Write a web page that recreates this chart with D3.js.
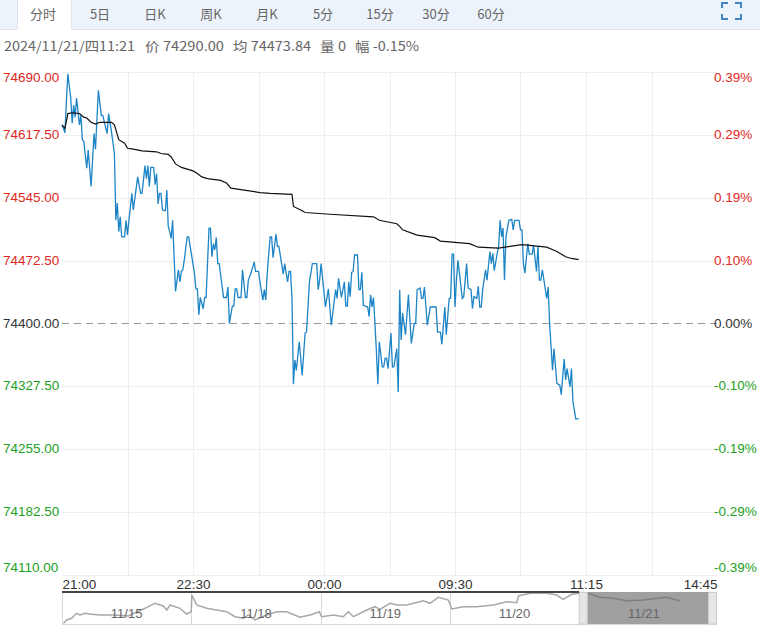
<!DOCTYPE html>
<html>
<head>
<meta charset="utf-8">
<script src="https://cdnjs.cloudflare.com/ajax/libs/d3/7.8.5/d3.min.js"></script>
<style>
  body { margin: 0; background: #fff; }
  svg { display: block; }
  .grid line { stroke: #eceef1; stroke-width: 1; shape-rendering: crispEdges; }
  .axis text { font-family: "Liberation Sans", Arial, sans-serif; font-size: 13.5px; }
  .axis .domain, .axis line { display: none; }
  .tab { font-family: "Noto Sans CJK SC", sans-serif; font-size: 13px; fill: #666; text-anchor: middle; }
  .info { font-family: "Noto Sans CJK SC", sans-serif; font-size: 13px; fill: #666; }
  .navlabel { font-family: "Liberation Sans", Arial, sans-serif; font-size: 13px; fill: #666; text-anchor: middle; }
</style>
</head>
<body>
<div id="chart"></div>
<script>
// tabs and the info row
let tabNames = ["分时", "5日", "日K", "周K", "月K", "5分", "15分", "30分", "60分"];
let tabCenters = [43, 100, 155, 211, 267, 323, 380, 436, 491];
let infoText = ["2024/11/21/四11:21", "价 74290.00", "均 74473.84", "量 0", "幅 -0.15%"];
let infoLeft = [4, 145, 233, 320, 355];
let infoWidth = [131, 79, 78, 26, 64];

// axes
let priceTicks = [74690, 74617.5, 74545, 74472.5, 74400, 74327.5, 74255, 74182.5, 74110];
let pctLabels = ["0.39%", "0.29%", "0.19%", "0.10%", "0.00%", "-0.10%", "-0.19%", "-0.29%", "-0.39%"];
let timeTicks = [0, 90, 180, 270, 360, 450];
let timeLabels = ["21:00", "22:30", "00:00", "09:30", "11:15", "14:45"];
let gridMinutes = [45, 90, 135, 180, 225, 270, 315, 360, 405];

// [minute since open, price]
let pricePoints = [
  [0,74629],[1,74625],[2,74620],[3,74655],[4,74688],[6,74660],[7,74631],[8,74652],[9,74638],[10,74660],
  [12,74629],[13,74640],[14,74612],[15,74610],[17,74579],[18,74600],[20,74558],[22,74619],[23,74601],[25,74669],
  [27,74640],[28,74640],[31,74619],[32,74642],[34,74621],[36,74596],[37,74519],[38,74539],[39,74506],[40,74523],
  [41,74500],[43,74500],[44,74519],[45,74502],[46,74519],[48,74550],[49,74531],[52,74569],[54,74550],[55,74550],
  [57,74582],[58,74567],[59,74582],[60,74558],[61,74580],[63,74580],[64,74560],[65,74573],[66,74538],[67,74550],
  [68,74550],[69,74531],[71,74530],[72,74554],[73,74512],[74,74506],[75,74498],[76,74519],[78,74437],[80,74462],
  [81,74448],[82,74460],[83,74462],[84,74473],[86,74500],[87,74500],[91,74458],[92,74440],[93,74440],[94,74410],
  [95,74430],[97,74417],[98,74430],[99,74430],[101,74510],[102,74510],[103,74477],[104,74492],[105,74485],[106,74499],
  [107,74469],[108,74469],[111,74430],[113,74430],[114,74442],[115,74400],[117,74420],[118,74420],[119,74440],[120,74440],
  [121,74430],[123,74430],[124,74462],[126,74430],[127,74430],[128,74450],[130,74459],[132,74471],[133,74460],[135,74460],
  [136,74448],[138,74427],[139,74439],[140,74427],[141,74458],[143,74500],[144,74500],[145,74476],[147,74503],[148,74489],
  [149,74489],[152,74457],[153,74469],[155,74448],[156,74460],[157,74460],[158,74429],[159,74330],[160,74358],[161,74346],
  [163,74379],[165,74340],[167,74389],[168,74390],[170,74448],[172,74469],[175,74469],[176,74439],[177,74450],[178,74469],
  [181,74419],[183,74440],[185,74398],[188,74439],[189,74429],[190,74452],[192,74430],[194,74448],[195,74420],[196,74420],
  [197,74448],[198,74431],[199,74459],[200,74460],[201,74479],[203,74479],[204,74439],[205,74439],[206,74459],[207,74421],
  [210,74419],[211,74408],[212,74433],[213,74419],[214,74430],[215,74400],[216,74368],[217,74330],[218,74379],[220,74350],
  [221,74350],[222,74360],[223,74360],[224,74348],[225,74368],[226,74389],[227,74350],[228,74350],[230,74371],[231,74321],
  [232,74439],[233,74381],[234,74412],[236,74387],[238,74433],[240,74377],[242,74400],[243,74400],[244,74439],[246,74441],
  [247,74429],[248,74429],[249,74442],[251,74398],[253,74419],[257,74419],[258,74390],[260,74390],[261,74376],[263,74419],
  [264,74387],[266,74429],[267,74429],[268,74480],[269,74480],[270,74419],[271,74450],[272,74473],[275,74429],[276,74431],
  [278,74469],[279,74441],[281,74439],[282,74417],[283,74431],[285,74429],[286,74443],[287,74419],[288,74419],[289,74439],
  [291,74462],[292,74450],[294,74483],[295,74469],[296,74481],[297,74461],[299,74481],[300,74489],[301,74519],[302,74500],
  [303,74510],[304,74450],[305,74500],[307,74519],[309,74520],[310,74508],[311,74519],[314,74519],[315,74508],[316,74508],
  [317,74469],[318,74458],[320,74492],[321,74480],[323,74480],[324,74490],[326,74460],[327,74489],[328,74450],[329,74450],
  [330,74462],[333,74429],[334,74442],[335,74400],[336,74373],[337,74346],[338,74371],[340,74331],[342,74329],[343,74318],
  [345,74359],[346,74335],[347,74348],[349,74327],[350,74348],[351,74310],[353,74290],[355,74290]
];

// [minute since open, average price]
let avgPoints = [
  [0,74629],[2,74625],[3,74633],[4,74642],[7,74643],[12,74642],[15,74638],[17,74637],[20,74632],[23,74630],
  [26,74632],[34,74632],[36,74629],[39,74612],[43,74608],[45,74602],[49,74601],[55,74599],[65,74598],[68,74596],
  [73,74595],[75,74592],[78,74584],[82,74580],[90,74576],[93,74573],[96,74569],[100,74567],[109,74565],[113,74562],
  [116,74556],[136,74551],[143,74550],[158,74549],[159,74535],[165,74530],[167,74528],[184,74526],[214,74523],[218,74519],
  [230,74515],[232,74512],[234,74508],[244,74502],[256,74499],[260,74495],[280,74492],[286,74488],[300,74487],[316,74491],
  [333,74488],[340,74483],[346,74477],[350,74475],[354,74474],[355,74473.84]
];

// navigator: [minute over the five sessions, level]
let navDays = ["11/15", "11/18", "11/19", "11/20", "11/21"];
let navPoints = [
  [5,0.7],[16,4],[33,5.7],[50,10.7],[62,9],[79,10.7],[102,9.7],[130,9],[176,9],[228,8],
  [285,15.7],[319,20.7],[348,18],[360,14],[371,19],[405,15.7],[428,10],[444,12.3],[446,29],[463,19],
  [497,15.7],[531,14],[566,12.3],[594,7.3],[623,5.7],[640,9],[663,4],[703,9],[737,12.3],[772,12.3],
  [817,6.7],[852,9],[884,12.3],[892,7.3],[932,9],[966,7.3],[984,12.3],[1001,7.3],[1047,14],[1075,17.3],
  [1092,14.7],[1127,20.7],[1150,19],[1184,19],[1207,20.7],[1241,23.3],[1264,20.7],[1293,26.7],[1327,24],[1339,15],
  [1379,17.3],[1424,17.3],[1482,19],[1528,22.3],[1562,21.3],[1568,28],[1608,30.7],[1665,30.7],[1699,29],[1722,24.7],
  [1751,29.7],[1777,30.7],[1808,30.7],[1848,26.7],[1894,25.7],[1940,23.3],[1997,24],[2077,26.7],[2123,23.3]
];

let svgWidth = 760;
let svgHeight = 627;
let margin = { top: 72, right: 43, bottom: 52, left: 62 };
let width = svgWidth - margin.left - margin.right;
let height = svgHeight - margin.top - margin.bottom;

let svg = d3.select("#chart").append("svg")
  .attr("width", svgWidth)
  .attr("height", svgHeight);

// tab bar
svg.append("rect").attr("width", svgWidth).attr("height", 29).attr("fill", "#edf3fb");
svg.append("rect").attr("x", 0).attr("y", 29).attr("width", svgWidth).attr("height", 1).attr("fill", "#dfe6f0");
svg.append("rect").attr("x", 17).attr("y", 0).attr("width", 54).attr("height", 30).attr("fill", "#fff");
svg.append("path").attr("d", "M17.5,0V29M71.5,0V29").attr("stroke", "#dfe6f0").attr("fill", "none");

svg.selectAll(".tab").data(tabNames).enter().append("text")
  .attr("class", "tab")
  .attr("x", (d, i) => tabCenters[i])
  .attr("y", 19)
  .text(d => d);

// fullscreen icon
svg.append("path")
  .attr("d", "M722,8V3H728M735,3H741V8M741,14V19H735M728,19H722V14")
  .attr("fill", "none")
  .attr("stroke", "#3f86c6")
  .attr("stroke-width", 2);

svg.selectAll(".info").data(infoText).enter().append("text")
  .attr("class", "info")
  .attr("x", (d, i) => infoLeft[i])
  .attr("y", 51)
  .attr("textLength", (d, i) => infoWidth[i])
  .attr("lengthAdjust", "spacingAndGlyphs")
  .text(d => d);

let chartGroup = svg.append("g")
  .attr("transform", `translate(${margin.left}, ${margin.top})`);

let xScale = d3.scaleLinear().domain([0, 450]).range([0, width]);
let yScale = d3.scaleLinear().domain([74110, 74690]).range([height, 0]);

// gridlines
let grid = chartGroup.append("g").attr("class", "grid");
grid.selectAll(".h").data(priceTicks.filter(d => d !== 74400)).enter().append("line")
  .attr("x1", 0).attr("x2", width)
  .attr("y1", d => Math.round(yScale(d)) + 0.5)
  .attr("y2", d => Math.round(yScale(d)) + 0.5);
grid.selectAll(".v").data(gridMinutes).enter().append("line")
  .attr("x1", d => Math.round(xScale(d)) + 0.5)
  .attr("x2", d => Math.round(xScale(d)) + 0.5)
  .attr("y1", 0).attr("y2", height);

chartGroup.append("line")
  .attr("x1", 0).attr("x2", width)
  .attr("y1", yScale(74400)).attr("y2", yScale(74400))
  .attr("stroke", "#999")
  .attr("stroke-dasharray", "7,5");

// colour of a label depends on the side of the previous close
function tickColor(d) {
  if (d > 74400) return "#e0281e";
  if (d < 74400) return "#22a022";
  return "#333";
}

// first and last label sit inside the plot
function tickShift(d) {
  if (d === 74690) return 6;
  if (d === 74110) return -7;
  return 0;
}

let leftAxis = d3.axisLeft(yScale).tickValues(priceTicks).tickSize(0).tickPadding(0)
  .tickFormat(d => d3.format(".2f")(d));
let leftG = chartGroup.append("g").attr("class", "axis").call(leftAxis);
leftG.selectAll("text")
  .attr("x", -59)
  .attr("dy", d => tickShift(d) + 3.5)
  .style("text-anchor", "start")
  .attr("fill", tickColor);

let rightAxis = d3.axisRight(yScale).tickValues(priceTicks).tickSize(0).tickPadding(0)
  .tickFormat((d, i) => pctLabels[i]);
let rightG = chartGroup.append("g").attr("class", "axis").call(rightAxis);
rightG.selectAll("text")
  .attr("x", 652)
  .attr("dy", d => tickShift(d) + 3.5)
  .style("text-anchor", "start")
  .attr("fill", tickColor);

let bottomAxis = d3.axisBottom(xScale).tickValues(timeTicks).tickSize(0).tickPadding(0)
  .tickFormat((d, i) => timeLabels[i]);
let bottomG = chartGroup.append("g").attr("class", "axis")
  .attr("transform", `translate(0, ${height})`)
  .call(bottomAxis);
bottomG.selectAll("text")
  .attr("y", 14)
  .attr("dy", 0)
  .attr("fill", "#333")
  .style("text-anchor", d => d === 0 ? "start" : d === 450 ? "end" : "middle");

// price and average lines
let line = d3.line().x(d => xScale(d[0])).y(d => yScale(d[1]));
chartGroup.append("path").datum(pricePoints)
  .attr("d", line).attr("fill", "none").attr("stroke", "#1d84c6").attr("stroke-width", 1.3);
chartGroup.append("path").datum(avgPoints)
  .attr("d", line).attr("fill", "none").attr("stroke", "#111").attr("stroke-width", 1.2);

// navigator
let navGroup = svg.append("g").attr("transform", `translate(${margin.left}, 592)`);
let navHeight = 32;
let navX = d3.scaleLinear().domain([0, 2250]).range([0, width]);
let navY = d3.scaleLinear().domain([0, 32]).range([navHeight, 0]);
// sessions stop short of the right edge, the last handle takes the rest
let navSession = d3.scaleLinear().domain([0, 5]).range([0, width - 8.5]);

[0, 1, 2, 3, 4].forEach(s => {
  navGroup.append("line")
    .attr("x1", Math.round(navSession(s)) + 0.5).attr("x2", Math.round(navSession(s)) + 0.5)
    .attr("y1", 0).attr("y2", navHeight)
    .attr("stroke", "#d8d8d8");
});
navGroup.append("line").attr("x1", width - 0.5).attr("x2", width - 0.5)
  .attr("y1", 0).attr("y2", navHeight).attr("stroke", "#d8d8d8");
navGroup.append("line").attr("x1", 0).attr("x2", width)
  .attr("y1", navHeight + 0.5).attr("y2", navHeight + 0.5).attr("stroke", "#d8d8d8");

navGroup.append("path").datum(navPoints)
  .attr("d", d3.line().x(d => navX(d[0])).y(d => navY(d[1])))
  .attr("fill", "none").attr("stroke", "#a8a8a8").attr("stroke-width", 1.5);

navGroup.selectAll(".navlabel").data(navDays).enter().append("text")
  .attr("class", "navlabel")
  .attr("x", (d, i) => navSession(i + 0.5))
  .attr("y", 26)
  .text(d => d);

// selected window with its two handles
navGroup.append("rect")
  .attr("x", navSession(4) + 8).attr("y", 0)
  .attr("width", navSession(5) - navSession(4) - 8).attr("height", navHeight)
  .attr("fill", "#666").attr("opacity", 0.62);
navGroup.append("rect")
  .attr("x", navSession(4)).attr("y", 0.5)
  .attr("width", 8).attr("height", navHeight - 0.5)
  .attr("fill", "#e6e6e6").attr("stroke", "#ccc");
navGroup.append("rect")
  .attr("x", navSession(5)).attr("y", 0.5)
  .attr("width", 8).attr("height", navHeight - 0.5)
  .attr("fill", "#e6e6e6").attr("stroke", "#ccc");

// dark band above the navigator
navGroup.append("rect")
  .attr("x", 0).attr("y", -1)
  .attr("width", navSession(4)).attr("height", 2)
  .attr("fill", "#444");
</script>
</body>
</html>
